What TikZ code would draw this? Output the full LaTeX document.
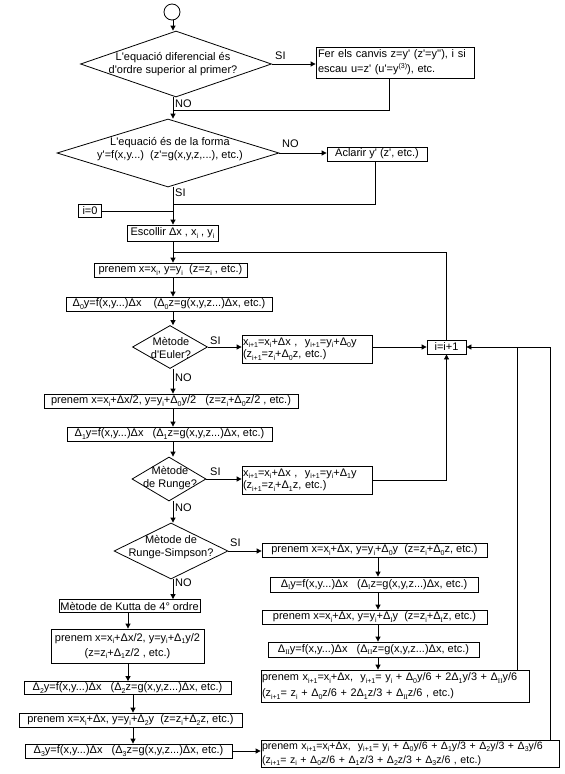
\documentclass[tikz,border=0pt]{standalone}
\usepackage{fontspec}
\setmainfont{Liberation Sans}[Ligatures=TeXOff]
\newfontfamily\romI{Liberation Serif}
\usetikzlibrary{shapes.geometric,arrows.meta}
\newcommand\sbx[1]{\raisebox{-0.4ex}{\fontsize{7}{7}\selectfont #1}}
\newcommand\spx[1]{\raisebox{0.7ex}{\fontsize{7}{7}\selectfont #1}}
\begin{document}
\begin{tikzpicture}[x=1pt,y=-1pt,
  every node/.style={font=\fontsize{11}{13}\selectfont},
  box/.style={draw, line width=0.8pt, inner xsep=1pt, inner ysep=1pt, minimum height=14pt},
  dia/.style={draw, diamond, line width=0.8pt, inner sep=0pt},
  arr/.style={line width=0.8pt, -{Triangle[length=5pt,width=5pt]}},
  ln/.style={line width=0.8pt},
  lab/.style={anchor=west, inner sep=0pt}]
\useasboundingbox (0,0) rectangle (565,774);
\coordinate (T) at (173,0);
% top
\node[draw, circle, line width=0.8pt, minimum size=16pt, inner sep=0pt] (start) at (172,12) {};
\node[dia, minimum width=191pt, minimum height=66pt] (d1) at (176,64) {};
\node[align=center] (d1t) at (173,64) {L'equació diferencial és\\d'ordre superior al primer?};
\node[box, minimum width=158pt, minimum height=31pt, text width=154pt, align=left, font=\fontsize{11}{15}\selectfont] (b1) at (395,62.5) {Fer els canvis z=y' (z'=y''), i si\\escau u=z' (u'=y\spx{(3)}), etc.};
\node[dia, minimum width=222pt, minimum height=68pt] (d2) at (168,153) {};
\node[align=center] (d2t) at (170,149) {L'equació és de la forma\\y'=f(x,y...)~~(z'=g(x,y,z,...), etc.)};
\node[box, minimum width=100pt] (acl) at (377,154) {Aclarir y' (z', etc.)};
\node[box, minimum width=23pt, minimum height=13pt] (i0) at (90,211) {i=0};
\node[box, minimum width=91pt, minimum height=16pt] (esc) at (172.5,233) {Escollir Δx , x\sbx{i} , y\sbx{i}};
\node[box, minimum width=153pt] (p0) at (170.5,270) {prenem x=x\sbx{i}, y=y\sbx{i}~~(z=z\sbx{i} , etc.)};
\node[box, minimum width=206pt] (d0y) at (169,304) {Δ\sbx{0}y=f(x,y...)Δx~~~~(Δ\sbx{0}z=g(x,y,z...)Δx, etc.)};
% Euler
\node[dia, minimum width=75pt, minimum height=43pt] (eu) at (170,347) {};
\node[align=center] (eut) at (171,348) {Mètode\\d'Euler?};
\node[box, minimum width=130pt, minimum height=28pt, text width=128pt, align=left, font=\fontsize{11}{12.5}\selectfont] (beu) at (307,349) {x\sbx{i+1}=x\sbx{i}+Δx ,~ y\sbx{i+1}=y\sbx{i}+Δ\sbx{0}y\\(z\sbx{i+1}=z\sbx{i}+Δ\sbx{0}z, etc.)};
\node[box, minimum width=39pt] (inc) at (446.5,347) {i=i+1};
\node[box, minimum width=254pt] (p1) at (171,401) {prenem x=x\sbx{i}+Δx/2, y=y\sbx{i}+Δ\sbx{0}y/2~~~(z=z\sbx{i}+Δ\sbx{0}z/2~, etc.)};
\node[box, minimum width=205pt] (d1y) at (169.5,434) {Δ\sbx{1}y=f(x,y...)Δx~~~(Δ\sbx{1}z=g(x,y,z...)Δx, etc.)};
% Runge
\node[dia, minimum width=74pt, minimum height=44pt] (ru) at (169,479) {};
\node[align=center] (rut) at (170,478) {Mètode\\de Runge?};
\node[box, minimum width=130pt, minimum height=28pt, text width=128pt, align=left, font=\fontsize{11}{12.5}\selectfont] (bru) at (307,480) {x\sbx{i+1}=x\sbx{i}+Δx ,~ y\sbx{i+1}=y\sbx{i}+Δ\sbx{1}y\\(z\sbx{i+1}=z\sbx{i}+Δ\sbx{1}z, etc.)};
% Runge-Simpson
\node[dia, minimum width=114pt, minimum height=56pt] (rs) at (171,551) {};
\node[align=center] (rst) at (171,547) {Mètode de\\Runge-Simpson?};
\node[box, minimum width=225pt] (ra) at (374.5,550) {prenem x=x\sbx{i}+Δx, y=y\sbx{i}+Δ\sbx{0}y~~(z=z\sbx{i}+Δ\sbx{0}z, etc.)};
\node[box, minimum width=208pt, minimum height=15pt] (rb) at (374,584.5) {Δ\sbx{\romI I}y=f(x,y...)Δx~~~(Δ\sbx{\romI I}z=g(x,y,z...)Δx, etc.)};
\node[box, minimum width=225pt] (rc) at (374.5,617) {prenem x=x\sbx{i}+Δx, y=y\sbx{i}+Δ\sbx{\romI I}y~~(z=z\sbx{i}+Δ\sbx{\romI I}z, etc.)};
\node[box, minimum width=211pt, minimum height=15pt] (rd) at (373.5,649.5) {Δ\sbx{\romI II}y=f(x,y...)Δx~~~(Δ\sbx{\romI II}z=g(x,y,z...)Δx, etc.)};
\node[box, minimum width=268pt, minimum height=32pt, text width=266pt, align=left, font=\fontsize{10.9}{16}\selectfont] (re) at (395,686) {prenem x\sbx{i+1}=x\sbx{i}+Δx,~ y\sbx{i+1}= y\sbx{i} + Δ\sbx{0}y/6 + 2Δ\sbx{1}y/3 + Δ\sbx{\romI II}y/6\\(z\sbx{i+1}= z\sbx{i} + Δ\sbx{0}z/6 + 2Δ\sbx{1}z/3 + Δ\sbx{\romI II}z/6 , etc.)};
% Kutta
\node[box, minimum width=141pt, minimum height=13pt] (ku) at (129.5,606) {Mètode de Kutta de 4° ordre};
\node[box, minimum width=153pt, minimum height=34pt, align=center, font=\fontsize{11}{15}\selectfont] (k1) at (127.5,646) {prenem x=x\sbx{i}+Δx/2, y=y\sbx{i}+Δ\sbx{1}y/2\\(z=z\sbx{i}+Δ\sbx{1}z/2~, etc.)};
\node[box, minimum width=207pt, minimum height=13pt] (k2) at (127.5,688) {Δ\sbx{2}y=f(x,y...)Δx~~~(Δ\sbx{2}z=g(x,y,z...)Δx, etc.)};
\node[box, minimum width=223pt] (k3) at (130.5,720) {prenem x=x\sbx{i}+Δx, y=y\sbx{i}+Δ\sbx{2}y~~(z=z\sbx{i}+Δ\sbx{2}z, etc.)};
\node[box, minimum width=207pt] (k4) at (128.5,751) {Δ\sbx{3}y=f(x,y...)Δx~~~(Δ\sbx{3}z=g(x,y,z...)Δx, etc.)};
\node[box, minimum width=298pt, minimum height=27pt, text width=296pt, align=left, font=\fontsize{10.6}{14}\selectfont] (kf) at (410,753.5) {prenem x\sbx{i+1}=x\sbx{i}+Δx,~ y\sbx{i+1}= y\sbx{i} + Δ\sbx{0}y/6 + Δ\sbx{1}y/3 + Δ\sbx{2}y/3 + Δ\sbx{3}y/6\\(z\sbx{i+1}= z\sbx{i} + Δ\sbx{0}z/6 + Δ\sbx{1}z/3 + Δ\sbx{2}z/3 + Δ\sbx{3}z/6 , etc.)};
% labels
\node[lab] (l1) at (275,56) {SI};
\node[lab] (l2) at (175,104) {NO};
\node[lab] (l3) at (282,144) {NO};
\node[lab] (l4) at (175,193) {SI};
\node[lab] (l5) at (210,341) {SI};
\node[lab] (l6) at (175,378) {NO};
\node[lab] (l7) at (210,472) {SI};
\node[lab] (l8) at (175,508) {NO};
\node[lab] (l9) at (230,543) {SI};
\node[lab] (l10) at (175,583) {NO};
% junctions
\coordinate (J1) at (173,110);
\coordinate (J2) at (173,204);
\coordinate (J3) at (173,211);
\coordinate (J4) at (173,252);
\coordinate (R) at (517,347);
\coordinate (K) at (550,347);
\coordinate (A) at (378,0);
\coordinate (B) at (128,0);
\coordinate (C) at (133,0);
% connectors
\draw[arr] (start.south -| T) -- (d1.north -| T);
\draw[arr] (d1.east) -- (b1.west |- d1.east);
\draw[arr] (d1.south -| T) -- (d2.north -| T);
\draw[ln] ([xshift=-6pt]b1.south) |- (J1);
\draw[arr] (d2.east) -- (acl.west |- d2.east);
\draw[arr] (d2.south -| T) -- (esc.north -| T);
\draw[ln] ([xshift=-2pt]acl.south) |- (J2);
\draw[ln] (i0.east) -- (J3);
\draw[arr] (esc.south -| T) -- (p0.north -| T);
\draw[ln] (inc.north) |- (J4);
\draw[arr] (p0.south -| T) -- (d0y.north -| T);
\draw[arr] (d0y.south -| T) -- (eu.north -| T);
\draw[arr] (eu.east) -- (beu.west |- eu.east);
\draw[arr] (beu.east |- inc.west) -- (inc.west);
\draw[arr] (eu.south -| T) -- (p1.north -| T);
\draw[arr] (p1.south -| T) -- (d1y.north -| T);
\draw[arr] (d1y.south -| T) -- (ru.north -| T);
\draw[arr] (ru.east) -- (bru.west |- ru.east);
\draw[arr] (bru.east) -| (inc.south);
\draw[arr] (ru.south -| T) -- (rs.north -| T);
\draw[arr] (rs.east) -- (ra.west |- rs.east);
\draw[arr] (ra.south -| A) -- (rb.north -| A);
\draw[arr] (rb.south -| A) -- (rc.north -| A);
\draw[arr] (rc.south -| A) -- (rd.north -| A);
\draw[arr] (rd.south -| A) -- (re.north -| A);
\draw[ln] (re.north -| R) -- (R);
\draw[arr] (kf.north -| K) |- (inc.east);
\draw[arr] (rs.south -| T) -- (ku.north -| T);
\draw[arr] (ku.south -| B) -- (k1.north -| B);
\draw[arr] (k1.south -| B) -- (k2.north -| B);
\draw[arr] (k2.south -| C) -- (k3.north -| C);
\draw[arr] (k3.south -| C) -- (k4.north -| C);
\draw[arr] (k4.east) -- (kf.west |- k4.east);
\end{tikzpicture}
\end{document}
